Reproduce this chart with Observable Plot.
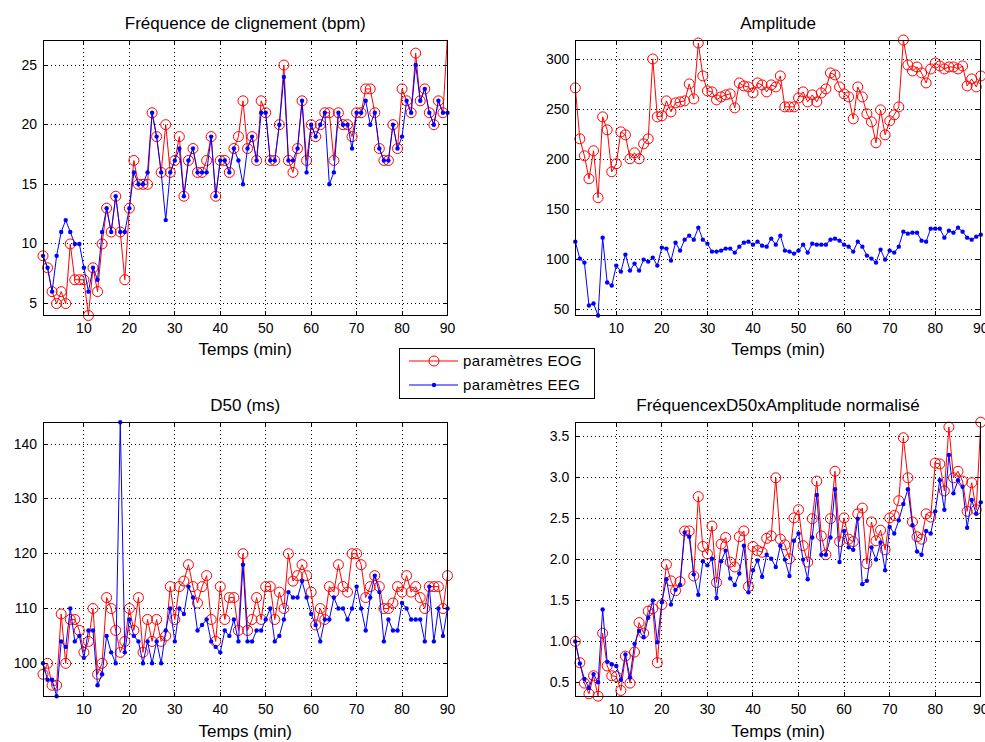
<!DOCTYPE html>
<html>
<head>
<meta charset="utf-8">
<script src="https://cdn.jsdelivr.net/npm/d3@7"></script>
<script src="https://cdn.jsdelivr.net/npm/@observablehq/plot@0.6"></script>
<style>
  html, body { margin: 0; padding: 0; background: #fff; }
  #chart { position: relative; width: 985px; height: 742px; background: #fff; font-family: "Liberation Sans", Arial, sans-serif; overflow: hidden; }
  #chart > svg { position: absolute; }
</style>
</head>
<body>
<div id="chart"></div>
<script>
// ---------- data ----------
const temps = [1,2,3,4,5,6,7,8,9,10,11,12,13,14,15,16,17,18,19,20,21,22,23,24,25,26,27,28,29,30,
  31,32,33,34,35,36,37,38,39,40,41,42,43,44,45,46,47,48,49,50,51,52,53,54,55,56,57,58,59,60,
  61,62,63,64,65,66,67,68,69,70,71,72,73,74,75,76,77,78,79,80,81,82,83,84,85,86,87,88,89,90];

const freqEOG = [9,8,6,5,6,5,10,7,7,7, 4,8,6,10,13,11,14,11,7,13,
  17,15,15,15,21,19,16,20,16,17, 19,14,17,18,16,16,17,19,14,17,
  17,16,18,19,22,18,19,17,22,21, 17,17,20,25,17,16,18,22,17,20,
  19,20,21,21,17,21,20,20,19,21, 21,23,23,21,18,17,17,20,18,23,
  22,21,26,22,23,21,20,22,21,27.5];
const freqEEG = [9,8,6,9,11,12,11,10,10,8, 6,8,7,11,13,11,14,11,11,13,
  16,15,15,16,21,19,16,12,16,17, 18,14,17,18,16,16,16,19,14,17,
  17,16,18,17,15,18,19,17,21,21, 17,17,20,24,17,17,18,22,16,20,
  19,20,21,15,16,21,20,20,18,21, 21,22,20,21,18,17,17,20,18,19,
  22,21,25,22,23,21,20,22,21,21];

const ampEOG = [272,221,204,181,209,162,243,230,188,196, 228,225,201,207,201,216,221,301,243,244,
  259,248,257,258,259,276,261,317,284,269, 268,260,263,265,266,252,277,274,273,267,
  277,275,268,275,273,284,253,253,253,262, 268,258,265,258,267,271,287,285,273,266,
  263,241,273,263,246,238,217,250,225,239, 245,253,320,295,289,293,287,277,291,297,
  294,291,293,293,291,294,274,281,273,284];
const ampEEG = [118,101,97,54,56,44,122,77,74,94, 88,105,89,96,89,100,98,102,94,112,
  111,99,117,109,120,124,120,132,120,116, 108,108,109,111,111,107,113,117,118,115,
  118,114,113,121,115,124,109,108,106,109, 115,107,116,115,115,115,120,121,119,115,
  113,108,118,113,104,101,97,110,100,109, 107,113,128,126,127,127,119,118,131,131,
  131,122,129,127,132,128,122,120,123,125];

const d50EOG = [98,100,96,96,109,100,108,108,106,102, 104,110,98,100,112,110,106,102,104,110,
  106,112,102,108,104,108,104,105,114,108, 114,115,118,114,111,114,116,108,104,114,
  108,112,112,106,120,106,108,112,108,114, 114,108,113,110,120,115,116,118,116,113,
  107,110,108,114,113,118,114,113,120,120, 118,112,114,116,114,110,110,111,114,113,
  116,113,114,112,110,114,114,114,110,116];
const d50EEG = [100,97,97,94,104,103,110,104,105,101, 106,106,96,98,105,102,100,144,102,108,
  105,104,100,104,100,104,100,106,110,104, 110,109,114,112,106,107,108,104,103,102,
  106,105,108,104,118,104,104,106,106,108, 110,104,105,108,113,112,112,115,112,109,
  107,104,108,108,112,110,110,108,110,114, 110,106,112,116,113,104,108,106,106,111,
  110,108,108,108,104,114,104,110,105,110];

const normEOG = [1.0,0.74,0.49,0.36,0.58,0.33,1.1,0.7,0.58,0.57, 0.4,0.82,0.49,0.87,1.23,1.1,1.37,1.4,0.74,1.45,
  1.94,1.74,1.62,1.73,2.35,2.35,1.8,2.77,2.16,2.07, 2.41,1.72,2.19,2.27,1.97,1.91,2.28,2.35,1.67,2.16,
  2.11,2.09,2.26,2.29,3.0,2.25,2.18,2.01,2.51,2.61, 2.17,1.97,2.5,2.96,2.29,2.06,2.5,3.08,2.22,2.51,
  2.25,2.22,2.56,2.63,1.95,2.46,2.23,2.36,2.12,2.51, 2.54,2.72,3.49,3.0,2.46,2.28,2.25,2.56,2.52,3.18,
  3.17,2.84,3.62,3.0,3.08,2.96,2.59,2.94,2.61,3.68];
const normEEG = [1.0,0.73,0.54,0.43,0.6,0.5,1.39,0.75,0.72,0.7, 0.53,0.84,0.56,0.97,1.13,1.05,1.29,1.5,0.99,1.48,
  1.76,1.45,1.63,1.69,2.33,2.28,1.82,1.57,1.98,1.93, 2.01,1.53,1.98,2.11,1.77,1.69,1.83,2.17,1.6,1.87,
  1.99,1.79,2.06,2.01,1.91,2.17,2.0,1.8,2.23,2.32, 2.0,1.76,2.27,2.79,2.06,2.06,2.27,2.86,1.97,2.35,
  2.15,2.12,2.5,1.7,1.74,2.15,2.0,2.21,1.87,2.4, 2.32,2.48,2.68,2.86,2.42,2.1,2.06,2.35,2.32,2.59,
  2.97,2.61,3.28,2.81,2.97,2.89,2.39,2.73,2.56,2.7];

const xTicks = [10,20,30,40,50,60,70,80,90];
const freqTicks = [5,10,15,20,25];
const ampTicks = [50,100,150,200,250,300];
const d50Ticks = [100,110,120,130,140];
const normTicks = [0.5,1,1.5,2,2.5,3,3.5];

const titles = ["Fréquence de clignement (bpm)", "Amplitude", "D50 (ms)", "FréquencexD50xAmplitude normalisé"];
const xLabel = "Temps (min)";
const seriesNames = ["paramètres EOG", "paramètres EEG"];

// ---------- drawing ----------
const chart = document.getElementById("chart");
const FONT = "'Liberation Sans', Arial, Helvetica, sans-serif";

function panel({eog, eeg, yDomain, yTicks, title, left, top, width, height, mL, mR, mT, mB, labelDy}) {
  const data = temps.map((t, i) => ({t, eog: eog[i], eeg: eeg[i]}));
  const inside = v => v >= yDomain[0] && v <= yDomain[1];
  const innerH = height - mT - mB;
  const innerW = width - mL - mR;
  const tk = 4;
  const svg = Plot.plot({
    width, height,
    marginLeft: mL, marginRight: mR, marginTop: mT, marginBottom: mB,
    style: {fontFamily: FONT, fontSize: "14px", background: "transparent", overflow: "visible", color: "#000"},
    x: {domain: [1, 90]},
    y: {domain: yDomain},
    marks: [
      Plot.gridX({ticks: xTicks, stroke: "#000", strokeOpacity: 1, strokeDasharray: "1,3", shapeRendering: "crispEdges"}),
      Plot.gridY({ticks: yTicks, stroke: "#000", strokeOpacity: 1, strokeDasharray: "1,3", shapeRendering: "crispEdges"}),
      Plot.axisX({ticks: xTicks, anchor: "bottom", tickSize: 0, tickPadding: 8, label: null, fontSize: 14}),
      Plot.axisY({ticks: yTicks, anchor: "left", tickSize: 0, tickPadding: 6, label: null, fontSize: 14}),
      Plot.tickX(xTicks, {x: d => d, stroke: "#000", insetTop: innerH - tk, shapeRendering: "crispEdges"}),
      Plot.tickX(xTicks, {x: d => d, stroke: "#000", insetBottom: innerH - tk, shapeRendering: "crispEdges"}),
      Plot.tickY(yTicks, {y: d => d, stroke: "#000", insetRight: innerW - tk, shapeRendering: "crispEdges"}),
      Plot.tickY(yTicks, {y: d => d, stroke: "#000", insetLeft: innerW - tk, shapeRendering: "crispEdges"}),
      Plot.line(data, {x: "t", y: "eog", stroke: "#ff0000", strokeWidth: 1, clip: true}),
      Plot.dot(data, {x: "t", y: "eog", r: 5, stroke: "#ff0000", strokeWidth: 1, fill: "none", filter: d => inside(d.eog)}),
      Plot.line(data, {x: "t", y: "eeg", stroke: "#0000ff", strokeWidth: 1, clip: true}),
      Plot.dot(data, {x: "t", y: "eeg", r: 2.2, fill: "#0000ff", stroke: "none", filter: d => inside(d.eeg)}),
      Plot.frame({stroke: "#000", strokeWidth: 1, shapeRendering: "crispEdges"}),
      Plot.text([title], {text: d => d, frameAnchor: "top", dy: -23, fontSize: 17, fill: "#000", letterSpacing: "0.5px"}),
      Plot.text([xLabel], {text: d => d, frameAnchor: "bottom", dy: labelDy, fontSize: 17, fill: "#000", letterSpacing: "0.6px"})
    ]
  });
  svg.style.left = left + "px";
  svg.style.top = top + "px";
  chart.appendChild(svg);
}

panel({eog: freqEOG, eeg: freqEEG, yDomain: [4, 27.1], yTicks: freqTicks, title: titles[0],
  left: 0, top: 0, width: 492, height: 371, mL: 42.5, mR: 45, mT: 39.5, mB: 56, labelDy: 39});
panel({eog: ampEOG, eeg: ampEEG, yDomain: [44, 320], yTicks: ampTicks, title: titles[1],
  left: 492, top: 0, width: 493, height: 371, mL: 82.8, mR: 4.7, mT: 39.5, mB: 56, labelDy: 39});
panel({eog: d50EOG, eeg: d50EEG, yDomain: [94, 144], yTicks: d50Ticks, title: titles[2],
  left: 0, top: 371, width: 492, height: 371, mL: 42.5, mR: 45, mT: 50.7, mB: 46.3, labelDy: 41});
panel({eog: normEOG, eeg: normEEG, yDomain: [0.33, 3.68], yTicks: normTicks, title: titles[3],
  left: 492, top: 371, width: 493, height: 371, mL: 82.8, mR: 4.7, mT: 50.7, mB: 46.3, labelDy: 41});

// ---------- legend ----------
const legend = d3.create("svg")
  .attr("width", 196).attr("height", 51)
  .style("left", "399px").style("top", "347.5px")
  .style("overflow", "visible");
legend.append("rect").attr("x", 0.5).attr("y", 0.5).attr("width", 195).attr("height", 50)
  .attr("fill", "#fff").attr("stroke", "#000");
const rows = [{name: seriesNames[0], color: "#ff0000", y: 13}, {name: seriesNames[1], color: "#0000ff", y: 37}];
rows.forEach((r, i) => {
  const g = legend.append("g");
  g.append("line").attr("x1", 10).attr("x2", 59).attr("y1", r.y).attr("y2", r.y).attr("stroke", r.color);
  if (i === 0) g.append("circle").attr("cx", 35).attr("cy", r.y).attr("r", 5).attr("fill", "none").attr("stroke", r.color);
  else g.append("circle").attr("cx", 35).attr("cy", r.y).attr("r", 2.2).attr("fill", r.color);
  g.append("text").attr("x", 64).attr("y", r.y).attr("dy", "0.35em")
    .attr("font-family", FONT).attr("font-size", 15).attr("letter-spacing", "0.4px").attr("fill", "#000").text(r.name);
});
chart.appendChild(legend.node());
</script>
</body>
</html>
